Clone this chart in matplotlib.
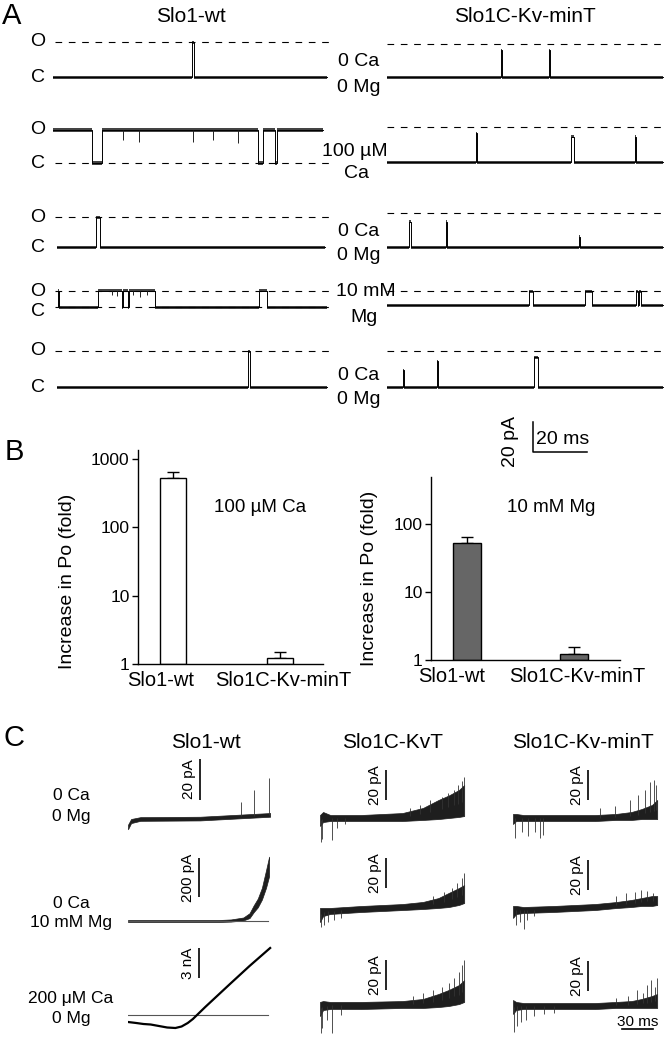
import numpy as np
import matplotlib
matplotlib.use('Agg')
import matplotlib.pyplot as plt
from matplotlib.ticker import NullLocator

plt.rcParams['font.family'] = ['Liberation Sans', 'DejaVu Sans']

# ---------------- data ----------------
# Panel A: single-channel records (ms, pA). events = (start, end[, level])
A_WT_UNIT = [23.3, 22.0, 20.0, 11.0, 24.0]
A_MIN_UNIT = [22.0, 23.3, 22.7, 9.3, 24.0]

A_WT_0CA_OPEN = [(51.5, 52.3)]
A_WT_CA_OPEN = [(0.0, 14.4), (18.1, 75.9), (77.8, 82.4), (82.9, 100.0)]
A_WT_0CA2_OPEN = [(15.9, 17.4)]
A_WT_MG_OPEN = [(1.8, 2.1), (16.7, 25.6), (26.1, 27.6), (28.0, 37.8), (76.3, 79.3)]
A_WT_0CA3_OPEN = [(72.2, 72.9)]

A_WT_CA_FLICK_T = [25.9, 31.9, 51.9, 59.3, 68.5]
A_WT_CA_FLICK_D = [6.7, 8.0, 8.0, 6.7, 8.7]
A_WT_MG_FLICK_T = [21.8, 23.7, 29.6, 32.2, 34.8]
A_WT_MG_FLICK_D = [3.0, 3.5, 3.0, 4.0, 3.0]

A_MIN_0CA_OPEN = [(42.2, 42.6, 18.0), (60.0, 60.4, 18.0)]
A_MIN_CA_OPEN = [(33.1, 33.5, 19.3), (68.3, 69.3, 16.7), (92.0, 92.4, 16.7)]
A_MIN_0CA2_OPEN = [(8.3, 8.8, 16.7), (21.7, 22.1, 16.7), (71.0, 71.3, 6.7)]
A_MIN_MG_OPEN = [(52.6, 54.1, 9.3), (73.3, 75.9, 9.3), (92.2, 92.8, 9.3), (93.2, 94.1, 9.3)]
A_MIN_0CA3_OPEN = [(5.9, 6.2, 11.3), (18.5, 18.8, 17.3), (54.4, 55.9, 20.0)]

# Panel B: fold increase in Po
B_GROUPS = ['Slo1-wt', 'Slo1C-Kv-minT']
B_CA_MEAN = [527, 1.22]
B_CA_ERR = [119, 0.28]
B_MG_MEAN = [52.5, 1.22]
B_MG_ERR = [11.5, 0.33]
B_TICKS = [1, 10, 100, 1000]

# Panel C: macroscopic currents (ms, pA; Slo1-wt 200 uM Ca in nA)
C_WT_00_T = [0, 3, 12, 70, 138]
C_WT_00_LO = [-5, -2, -0.9, -0.7, 1.1]
C_WT_00_HI = [-2.8, 0, 0.9, 1.1, 2.9]
C_WT_00_SPK_T = [110, 122, 137]
C_WT_00_SPK_Y = [8.3, 14.1, 20]

C_WT_MG_T = [0, 88, 100, 112, 118, 122, 126, 130, 134, 137]
C_WT_MG_LO = [-5, -5, -3, 3, 15, 45, 70, 110, 170, 230]
C_WT_MG_HI = [5, 5, 8, 18, 40, 80, 115, 170, 260, 330]

C_WT_CA_T = [0, 8, 15, 22, 30, 38, 46, 52, 58, 63, 67, 75, 99, 118, 138]
C_WT_CA_I = [-0.7, -0.8, -0.9, -0.95, -1.1, -1.25, -1.3, -1.15, -0.8, -0.4, 0.0, 0.8, 3.1, 4.9, 6.7]

C_KNOTS_T = [0, 3, 10, 40, 80, 100, 115, 125, 135, 140]

C_KVT_00_LO = [-5.3, -2.7, -2, -2, -2, -1.3, -0.7, 0, 0.7, 1.3]
C_KVT_00_HI = [2, 4, 2, 2, 3.3, 6.7, 12, 15, 18.7, 22]
C_KVT_00_SPK_T = [0.5, 1.5, 11.7, 16.5, 24, 87, 97, 107, 118, 124, 130, 134, 138, 139.5]
C_KVT_00_SPK_Y = [-16, -14, -14.7, -6.7, -4, 6.7, 8.7, 12, 14, 16.7, 18.7, 22, 25, 27.3]

C_KVT_MG_LO = [-6.7, -2.7, -1.3, 0, 1.3, 2, 2.7, 3.3, 4.7, 6]
C_KVT_MG_HI = [2.7, 2.7, 2.7, 4, 5.3, 6.7, 9.3, 12.7, 16, 18]
C_KVT_MG_SPK_T = [1, 4, 8, 14, 20, 110, 120, 128, 133, 138, 139.5]
C_KVT_MG_SPK_Y = [-10, -8.7, -6.7, -5.3, -4, 10.7, 13.3, 16, 19.3, 22.7, 26]

C_KVT_CA_LO = [-6.7, -2.7, -2, -2, -1.3, -1.3, -0.7, 0, 1.3, 2.7]
C_KVT_CA_HI = [2.7, 3.3, 2.7, 2.7, 3.3, 4.7, 8, 10.7, 14, 17.3]
C_KVT_CA_SPK_T = [0.5, 2, 7, 12, 20, 90, 100, 110, 118, 125, 130, 135, 138, 139.5]
C_KVT_CA_SPK_Y = [-18, -14.7, -9.3, -18, -6, 6.7, 8.7, 10.7, 12.7, 15.3, 18.7, 22.7, 27.3, 30.7]

C_MIN_00_LO = [-4, -2, -2, -2, -2, -1.3, -1.3, -0.7, -0.7, -0.7]
C_MIN_00_HI = [2.7, 2.7, 2, 2, 2, 2.7, 4, 6, 8.7, 12]
C_MIN_00_SPK_T = [2, 8.7, 14.6, 21, 26, 29, 84, 99, 114, 121, 128, 133, 137, 139]
C_MIN_00_SPK_Y = [-13.3, -9.3, -12, -9.3, -13.3, -11.3, 6.7, 8, 12, 15.3, 18.7, 24, 25.3, 22]

C_MIN_MG_LO = [-5.3, -2.7, -2, -1.3, 0, 1.3, 2, 2.7, 2.7, 3.3]
C_MIN_MG_HI = [2.7, 2.7, 2, 2.7, 4, 5.3, 6.7, 8, 9.3, 9.3]
C_MIN_MG_SPK_T = [3, 7, 11, 14, 20, 100, 110, 118, 124, 130, 136]
C_MIN_MG_SPK_Y = [-10, -8, -12.7, -6.7, -4, 9.3, 11.3, 12, 13.3, 12.7, 11.3]

C_MIN_CA_LO = [-5.3, -2.7, -2, -2, -2, -1.3, -1.3, -1.3, -1.3, -1.3]
C_MIN_CA_HI = [4, 2.7, 2, 2, 2, 2.7, 3.3, 4.7, 6.7, 8]
C_MIN_CA_SPK_T = [1, 4, 8, 13, 20, 30, 40, 100, 112, 120, 126, 130, 134, 138, 139.5]
C_MIN_CA_SPK_Y = [-17.3, -13.3, -10.7, -9.3, -6.7, -5.3, -4.7, 5.3, 6.7, 10.7, 8.7, 14, 17.3, 12.7, 18.7]

# ---------------- layout helpers (pixel units) ----------------
W, H = 667, 1037
fig = plt.figure(figsize=(W / 100, H / 100), dpi=100)


def px_axes(x0, x1, y0, y1):
    return fig.add_axes([x0 / W, 1 - y1 / H, (x1 - x0) / W, (y1 - y0) / H])


def trace_axes(x0, base, t_max, px_ms, px_unit, lo, hi):
    ax = px_axes(x0, x0 + t_max * px_ms, base - hi * px_unit, base - lo * px_unit)
    ax.set_xlim(0, t_max)
    ax.set_ylim(lo, hi)
    ax.axis('off')
    return ax


def ptext(x, y, s, size=14, **kw):
    fig.text(x / W, 1 - y / H, s, fontsize=size, ha='center', va='center', **kw)


def draw_channel(ax, t0, t1, events, unit, band, dash_levels, dash_span):
    ts, ys = [t0], [0.0]
    for ev in events:
        s, e = ev[0], ev[1]
        lvl = ev[2] if len(ev) > 2 else unit
        ts += [s, s, e, e]
        ys += [0.0, lvl, lvl, 0.0]
    ts.append(t1)
    ys.append(0.0)
    if ts[1] == ts[0]:
        ts, ys = ts[2:], ys[2:]
    if ts[-2] == ts[-1]:
        ts, ys = ts[:-2], ys[:-2]
    ts, ys = np.array(ts), np.array(ys)
    for lvl in dash_levels:
        ax.plot(dash_span, [lvl, lvl], color='black', lw=0.8, ls=(0, (6, 6)))
    ax.fill_between(ts, ys - band, ys + band, color='#444444', lw=0)
    ax.plot(ts, ys, color='black', lw=0.7)


def draw_macro(ax, t, lo, hi, spk_t=None, spk_y=None):
    ax.fill_between(t, lo, hi, color='#1e1e1e', lw=0.5, edgecolor='#1e1e1e')
    if spk_t:
        mid = (np.array(lo) + np.array(hi)) / 2
        base = np.interp(spk_t, t, mid)
        ax.vlines(spk_t, base, spk_y, color='#333333', lw=0.6)


def scale_bar(ax, t, y0, size, label):
    ax.plot([t, t], [y0, y0 + size], color='black', lw=1.2, solid_capstyle='butt')
    ax.annotate(label, xy=(t, y0 + size / 2), xytext=(-3, 0), textcoords='offset points',
                rotation=90, ha='right', va='center', fontsize=11)


# ---------------- Panel A ----------------
PX_MS_A, PX_PA_A = 2.7, 1.5
left_base = [77, 163, 247, 307, 387]
right_base = [77, 162, 247, 305, 387]

wt_rows = [
    (0.0, 101.5, A_WT_0CA_OPEN, 1.0, [A_WT_UNIT[0]]),
    (0.0, 100.0, A_WT_CA_OPEN, 1.6, [0.0]),
    (1.5, 100.7, A_WT_0CA2_OPEN, 1.0, [A_WT_UNIT[2]]),
    (1.9, 101.5, A_WT_MG_OPEN, 1.0, [A_WT_UNIT[3], 0.0]),
    (1.5, 101.5, A_WT_0CA3_OPEN, 1.0, [A_WT_UNIT[4]]),
]
for i, (t0, t1, ev, band, dashes) in enumerate(wt_rows):
    ax = trace_axes(53, left_base[i], 103, PX_MS_A, PX_PA_A, -12, 30)
    draw_channel(ax, t0, t1, ev, A_WT_UNIT[i], band, dashes, [0.7, 102.6])
    if i == 1:
        ax.vlines(A_WT_CA_FLICK_T, A_WT_UNIT[1] - np.array(A_WT_CA_FLICK_D), A_WT_UNIT[1],
                  color='#222222', lw=0.7)
    if i == 3:
        ax.vlines(A_WT_MG_FLICK_T, A_WT_UNIT[3] - np.array(A_WT_MG_FLICK_D), A_WT_UNIT[3],
                  color='#222222', lw=0.7)

min_rows = [A_MIN_0CA_OPEN, A_MIN_CA_OPEN, A_MIN_0CA2_OPEN, A_MIN_MG_OPEN, A_MIN_0CA3_OPEN]
for i, ev in enumerate(min_rows):
    lo = -48 if i == 4 else -12
    ax = trace_axes(387, right_base[i], 103, PX_MS_A, PX_PA_A, lo, 30)
    draw_channel(ax, 0.0, 102.2, ev, A_MIN_UNIT[i], 1.0, [A_MIN_UNIT[i]], [0.0, 102.2])
    if i == 4:
        # 20 pA / 20 ms scale bar
        ax.plot([54, 54, 74], [-23.3, -43.3, -43.3], color='black', lw=1.1)
        ax.annotate('20 ms', xy=(64, -43.3), xytext=(2, 9), textcoords='offset points',
                    ha='center', va='center', fontsize=14)
        ax.annotate('20 pA', xy=(54, -33.3), xytext=(-16, -3), textcoords='offset points',
                    rotation=90, ha='center', va='center', fontsize=14)

ptext(12, 16, 'A', size=21)
ptext(191, 17, 'Slo1-wt', size=15)
ptext(525, 17, 'Slo1C-Kv-minT', size=15)
for yo, yc in zip([42, 130, 217, 292, 351], [77, 163, 247, 311, 387]):
    ptext(38, yo, 'O', size=14)
    ptext(38, yc, 'C', size=14)
for s, x, y in [('0 Ca', 359, 62), ('0 Mg', 359, 88), ('100 µM', 355, 152), ('Ca', 357, 173),
                ('0 Ca', 359, 232), ('0 Mg', 359, 255), ('10 mM', 366, 292), ('Mg', 364, 318),
                ('0 Ca', 359, 376), ('0 Mg', 359, 399)]:
    ptext(x, y, s, size=14)

# ---------------- Panel B ----------------
def draw_bars(ax, means, errs, face, width, xlim, top, label_pos):
    ax.set_yscale('log')
    x = np.arange(len(means))
    ax.bar(x, np.array(means) - 1, bottom=1, width=width, color=face,
           edgecolor='black', lw=1.0, zorder=2)
    ax.errorbar(x, means, yerr=[np.zeros(len(errs)), errs], fmt='none', ecolor='black',
                elinewidth=1.0, capsize=4, capthick=1.0, zorder=1)
    ax.set_xlim(*xlim)
    ax.set_ylim(1, top)
    ticks = [t for t in B_TICKS if t <= top]
    ax.set_yticks(ticks, [str(t) for t in ticks])
    ax.yaxis.set_minor_locator(NullLocator())
    for side in ['top', 'right']:
        ax.spines[side].set_visible(False)
    for side in ['left', 'bottom']:
        ax.spines[side].set_linewidth(1.0)
    ax.tick_params(axis='y', length=4, width=1, labelsize=12.5, pad=2)
    ax.set_xticks(label_pos, B_GROUPS)
    ax.tick_params(axis='x', length=0, labelsize=14.5, pad=5)
    ax.patch.set_alpha(0)


axL = px_axes(138, 323, 450, 664)
draw_bars(axL, B_CA_MEAN, B_CA_ERR, 'white', 0.243, (-0.327, 1.402), 1350, [-0.12, 1.03])
axR = px_axes(431, 620, 477, 660)
draw_bars(axR, B_MG_MEAN, B_MG_ERR, '#666666', 0.27, (-0.336, 1.43), 490, [-0.14, 1.03])

ptext(14, 452, 'B', size=21)
ptext(67, 581, 'Increase in Po (fold)', size=14, rotation=90)
ptext(370, 578, 'Increase in Po (fold)', size=14, rotation=90)
ptext(260, 508, '100 µM Ca', size=13.5)
ptext(551, 508, '10 mM Mg', size=13.5)

# ---------------- Panel C ----------------
PX_MS_C = 1.03
T_C = 142

ax = trace_axes(128, 819, T_C, PX_MS_C, 2.05, -10, 32)
draw_macro(ax, C_WT_00_T, C_WT_00_LO, C_WT_00_HI, C_WT_00_SPK_T, C_WT_00_SPK_Y)
scale_bar(ax, 70, 9.3, 20, '20 pA')

ax = trace_axes(128, 921, T_C, PX_MS_C, 0.195, -60, 340)
ax.plot([0, 136], [0, 0], color='#555555', lw=0.8)
draw_macro(ax, C_WT_MG_T, C_WT_MG_LO, C_WT_MG_HI)
scale_bar(ax, 69, 123, 200, '200 pA')

ax = trace_axes(128, 1015, T_C, PX_MS_C, 10.0, -2, 7.5)
ax.plot([0, 136], [0, 0], color='#555555', lw=0.8)
ax.plot(C_WT_CA_T, C_WT_CA_I, color='black', lw=1.6)
scale_bar(ax, 69, 3.7, 3, '3 nA')

mut = [
    (320, 818, C_KVT_00_LO, C_KVT_00_HI, C_KVT_00_SPK_T, C_KVT_00_SPK_Y, 64, 12.0),
    (320, 912, C_KVT_MG_LO, C_KVT_MG_HI, C_KVT_MG_SPK_T, C_KVT_MG_SPK_Y, 64, 16.0),
    (320, 1006, C_KVT_CA_LO, C_KVT_CA_HI, C_KVT_CA_SPK_T, C_KVT_CA_SPK_Y, 64, 10.7),
    (513, 818, C_MIN_00_LO, C_MIN_00_HI, C_MIN_00_SPK_T, C_MIN_00_SPK_Y, 73, 12.0),
    (513, 910, C_MIN_MG_LO, C_MIN_MG_HI, C_MIN_MG_SPK_T, C_MIN_MG_SPK_Y, 73, 13.3),
    (513, 1006, C_MIN_CA_LO, C_MIN_CA_HI, C_MIN_CA_SPK_T, C_MIN_CA_SPK_Y, 73, 10.0),
]
for k, (x0, base, lo, hi, st, sy, tb, yb) in enumerate(mut):
    ax = trace_axes(x0, base, T_C, PX_MS_C, 1.5, -22, 36)
    draw_macro(ax, C_KNOTS_T, lo, hi, st, sy)
    scale_bar(ax, tb, yb, 20, '20 pA')
    if k == 5:
        ax.plot([106, 136], [-15.3, -15.3], color='black', lw=1.2)
        ax.annotate('30 ms', xy=(121, -15.3), xytext=(0, 5), textcoords='offset points',
                    ha='center', va='center', fontsize=11)

ptext(14, 738, 'C', size=21)
ptext(206, 743, 'Slo1-wt', size=15)
ptext(393, 743, 'Slo1C-KvT', size=15)
ptext(583, 743, 'Slo1C-Kv-minT', size=15)
for s, y in [('0 Ca', 795), ('0 Mg', 816), ('0 Ca', 903), ('10 mM Mg', 923),
             ('200 μM Ca', 998), ('0 Mg', 1018)]:
    ptext(71, y, s, size=12.5)

fig.savefig('out.png', dpi=100)
